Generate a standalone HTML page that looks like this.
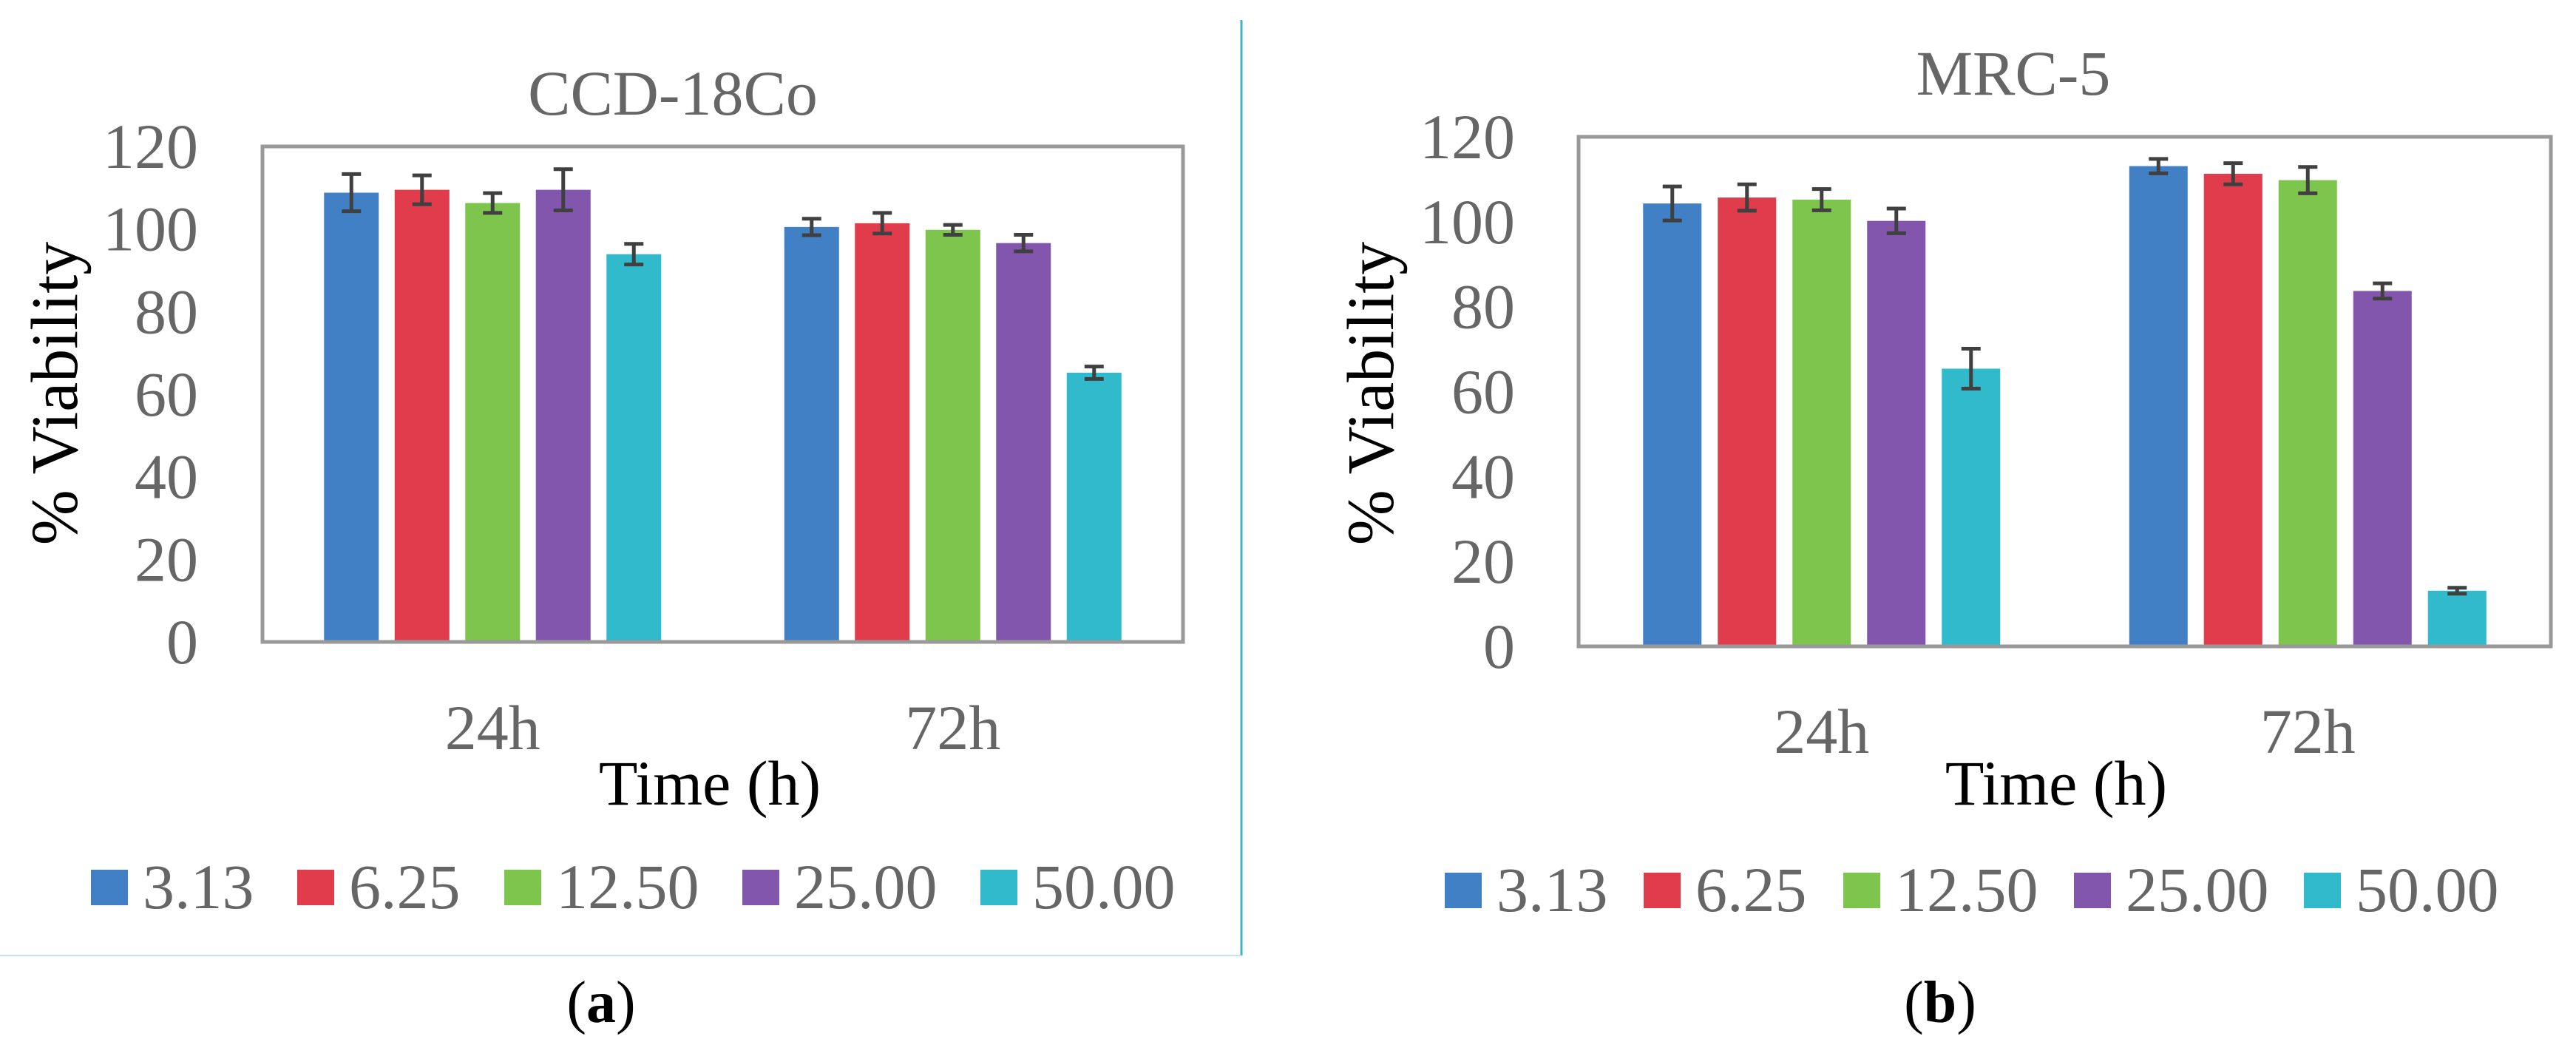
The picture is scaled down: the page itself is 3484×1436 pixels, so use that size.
<!DOCTYPE html>
<html><head><meta charset="utf-8"><style>
html,body{margin:0;padding:0;background:#fff;}
svg{display:block;font-family:"Liberation Serif",serif;}
</style></head><body>
<svg id="fig" width="3484" height="1436" viewBox="0 0 3484 1436" xmlns="http://www.w3.org/2000/svg">
<line x1="1679" y1="27" x2="1679" y2="1292" stroke="#3fb4c4" stroke-width="3"/>
<line x1="0" y1="1292" x2="1679" y2="1292" stroke="#bfe9ef" stroke-width="2"/>
<text x="813" y="1382" font-size="80" text-anchor="middle" fill="#000">(<tspan font-weight="bold">a</tspan>)</text>
<text x="2624" y="1382" font-size="80" text-anchor="middle" fill="#000">(<tspan font-weight="bold">b</tspan>)</text>
</svg>
<script>
const categories = ["24h", "72h"];
const seriesNames = ["3.13", "6.25", "12.50", "25.00", "50.00"];
const yTicks = [0, 20, 40, 60, 80, 100, 120];
const colors = ["#4180c4", "#e03c4b", "#7dc54c", "#8256ad", "#30bacb"];
// panel a values [series][category]
const aValues = [[108.8, 100.5], [109.5, 101.4], [106.3, 99.8], [109.5, 96.6], [93.9, 65.2]];
const aErrors = [[4.5, 2.0], [3.5, 2.5], [2.4, 1.2], [5.0, 2.0], [2.5, 1.5]];
// panel b values
const bValues = [[104.3, 113.1], [105.7, 111.3], [105.2, 109.8], [100.2, 83.7], [65.4, 13.1]];
const bErrors = [[4.0, 1.7], [3.1, 2.5], [2.5, 3.1], [2.9, 1.8], [4.7, 0.7]];

const NS = "http://www.w3.org/2000/svg";
const svg = document.getElementById("fig");
function mk(tag, attrs, parent, text) {
  const e = document.createElementNS(NS, tag);
  for (const k in attrs) e.setAttribute(k, attrs[k]);
  if (text !== undefined) e.textContent = text;
  (parent || svg).appendChild(e);
  return e;
}

function drawPanel(p, values, errors) {
  const g = mk("g", {});
  
  
  const yMax = 120;
  const yS = v => p.y1 - (v / yMax) * (p.y1 - p.y0);
  const catW = (p.x1 - p.x0) / categories.length;
  const t = mk("text", {x: p.titleX, y: p.titleY, "font-size": 86, fill: "#666", "text-anchor": "middle"}, g, p.title);
  
  
  yTicks.forEach(v => {
    const tl = mk("text", {x: p.tickX, y: yS(v) + 29, "font-size": 86, fill: "#666", "text-anchor": "end"}, g, String(v));
    
    
  });
  categories.forEach((c, ci) => {
    const cx = p.x0 + catW * (ci + 0.5);
    const pitch = p.pitch;
    for (let s = 0; s < seriesNames.length; s++) {
      const bx = cx + (s - 2) * pitch - p.barW / 2;
      const v = values[s][ci];
      const r = mk("rect", {x: bx, y: yS(v), width: p.barW, height: yS(0) - yS(v), fill: colors[s]}, g);
      
      
      const e = errors[s][ci];
      const mx = bx + p.barW / 2;
      const eb = mk("path", {d: `M${mx},${yS(v + e)}V${yS(v - e)}M${mx - 13},${yS(v + e)}H${mx + 13}M${mx - 13},${yS(v - e)}H${mx + 13}`, stroke: "#404040", "stroke-width": 5, fill: "none"}, g);
      
      
    }
    const xl = mk("text", {x: cx, y: p.catY, "font-size": 86, fill: "#666", "text-anchor": "middle"}, g, c);
    
    
  });
  const box = mk("rect", {x: p.x0, y: p.y0, width: p.x1 - p.x0, height: p.y1 - p.y0, fill: "none", stroke: "#999", "stroke-width": 5}, g);
  
  
  const xt = mk("text", {x: p.xtX, y: p.xtY, "font-size": 86, fill: "#000", "text-anchor": "middle"}, g, "Time (h)");
  
  
  const yt = mk("text", {x: 0, y: 0, "font-size": 90, fill: "#000", "text-anchor": "middle", transform: `translate(${p.ytX},532) rotate(-90)`}, g, "% Viability");
  
  
  seriesNames.forEach((n, s) => {
    const lg = mk("g", {}, g);
    
    
    const lx = p.legX[s];
    mk("rect", {x: lx, y: p.legY - 24, width: 50, height: 48, fill: colors[s]}, lg);
    mk("text", {x: lx + 70, y: p.legY + 28, "font-size": 86, fill: "#666"}, lg, n);
  });
}

drawPanel({name: "chart-ccd-18co", title: "CCD-18Co", titleX: 910, titleY: 155,
  x0: 355, x1: 1600, y0: 198, y1: 868, barW: 74, pitch: 95.5, tickX: 268,
  catY: 1013, xtX: 960, xtY: 1088, ytX: 104, legY: 1200,
  legX: [123, 402, 682, 1004, 1326]}, aValues, aErrors);
drawPanel({name: "chart-mrc-5", title: "MRC-5", titleX: 2723, titleY: 128,
  x0: 2135, x1: 3450, y0: 185, y1: 874, barW: 79, pitch: 101, tickX: 2049,
  catY: 1018, xtX: 2781, xtY: 1088, ytX: 1884, legY: 1204,
  legX: [1954, 2223, 2493, 2805, 3116]}, bValues, bErrors);
</script>
</body></html>
